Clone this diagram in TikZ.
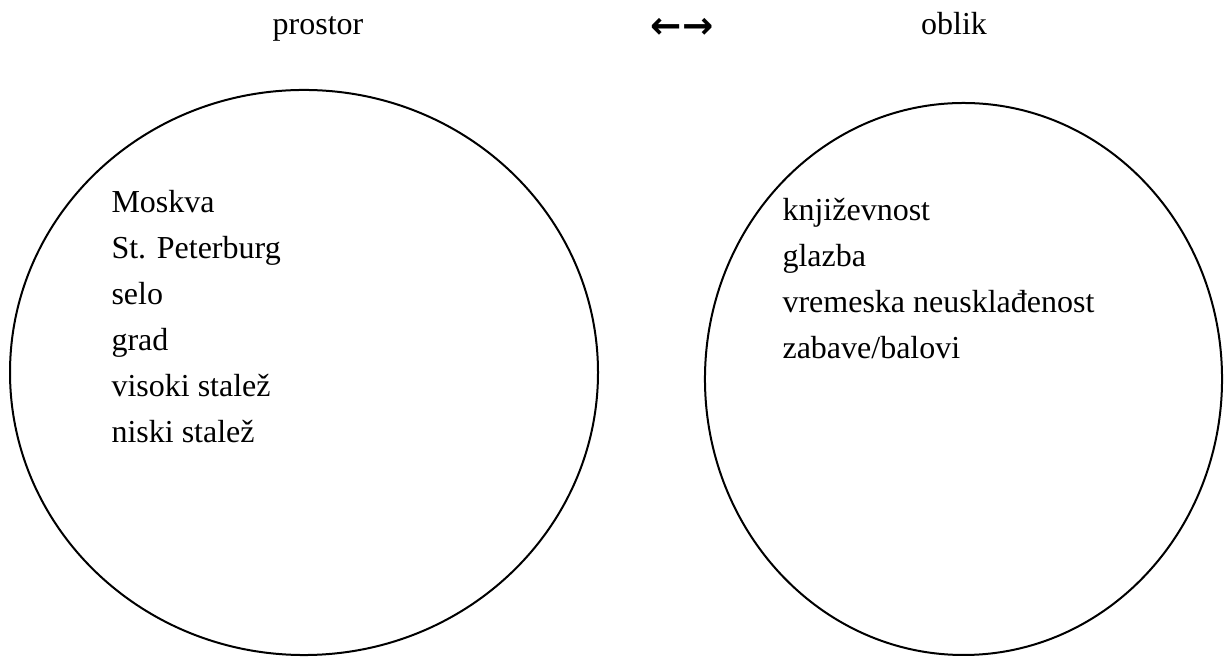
\documentclass[tikz,border=0pt]{standalone}
\usepackage{fontspec}
\setmainfont{Liberation Serif}
\newfontfamily\arrowfont{DejaVu Sans}
\usetikzlibrary{shapes.geometric}
\begin{document}
\begin{tikzpicture}[x=0.375pt,y=-0.375pt,
  word/.style={anchor=base west, inner sep=0pt, font=\fontsize{12}{14}\selectfont},
  head/.style={anchor=base, inner sep=0pt, font=\fontsize{12}{14}\selectfont},
  ring/.style={ellipse, draw=black, line width=0.75pt, inner sep=0pt}]
\useasboundingbox (0,0) rectangle (1231,657);
% headings
\node [head] (prostor) at (318,35) {prostor};
\node [head, font=\arrowfont\bfseries\fontsize{14}{16}\selectfont] (arrows) at (682,39) {←→};
\node [head] (oblik) at (954,35) {oblik};
% the two circles
\node [ring, minimum width=220.5pt, minimum height=211.9pt] (left) at (304,372.5) {};
\node [ring, minimum width=193.9pt, minimum height=207pt] (right) at (963.5,379) {};
% left side
\node [word] (moskva) at (111,213) {Moskva};
\node [word] (peterburg) at (111,259) {St. Peterburg};
\node [word] (selo) at (111,305) {selo};
\node [word] (grad) at (111,351) {grad};
\node [word] (visoki) at (111,397) {visoki stalež};
\node [word] (niski) at (111,443) {niski stalež};
% right side
\node [word] (knjizevnost) at (782,221) {književnost};
\node [word] (glazba) at (782,267) {glazba};
\node [word] (vremeska) at (782,313) {vremeska neusklađenost};
\node [word] (zabave) at (782,359) {zabave/balovi};
\end{tikzpicture}
\end{document}
